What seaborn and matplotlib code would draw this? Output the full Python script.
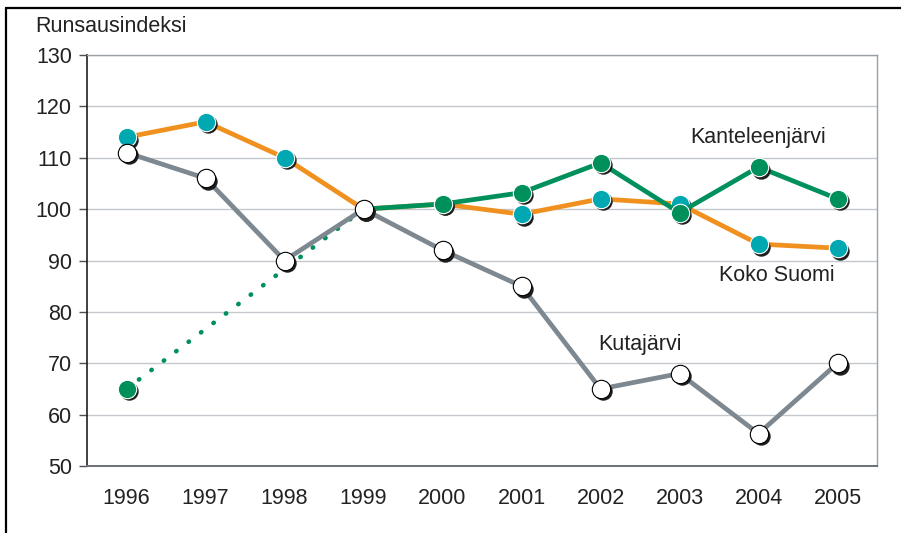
import matplotlib
matplotlib.use("Agg")
import matplotlib.pyplot as plt
import matplotlib.transforms as mtransforms
from matplotlib.lines import Line2D
import numpy as np
import pandas as pd
import seaborn as sns

# ─── Data ────────────────────────────────────────────────────────────────────
YEARS = [1996, 1997, 1998, 1999, 2000, 2001, 2002, 2003, 2004, 2005]
KOKO_SUOMI = [114, 117, 110, 100, 101, 99, 102, 101, 93.2, 92.4]
KANTELEENJARVI = [65, np.nan, np.nan, 100, 101, 103.2, 109, 99.3, 108.2, 102]
KUTAJARVI = [111, 106, 90, 100, 92, 85, 65, 68, 56.3, 70]

ORANGE = "#F0901E"
TEAL = "#00A8B2"
GREEN = "#00905C"
GRAY = "#7D8891"
SHADOW = "#1E1E1E"

sns.set_theme(style="white")
plt.rcParams["font.family"] = ["Liberation Sans", "DejaVu Sans"]

fig = plt.figure(figsize=(9.01, 5.33), dpi=100)
ax = fig.add_axes([0.0966, 0.1257, 0.8768, 0.7711])

shadow_tf = ax.transData + mtransforms.ScaledTranslation(2.5 / 100, -2.5 / 100,
                                                          fig.dpi_scale_trans)


def draw_series(x, y, line_color, face, edge, z, line_from=0):
    df = pd.DataFrame({"x": x, "y": y}).dropna()
    line_df = df[df["x"] >= x[line_from]]
    sns.lineplot(data=line_df, x="x", y="y", color=line_color, lw=3.4, ax=ax,
                 zorder=z, solid_capstyle="round", legend=False)
    sns.scatterplot(data=df, x="x", y="y", color=SHADOW, s=175, lw=0,
                    ax=ax, zorder=z + 0.1, transform=shadow_tf, legend=False)
    sns.scatterplot(data=df, x="x", y="y", color=face, s=175, lw=0.8,
                    edgecolor=edge, ax=ax, zorder=z + 0.2, legend=False)


# Koko Suomi
draw_series(YEARS, KOKO_SUOMI, ORANGE, TEAL, "white", 3)

# Kanteleenjärvi: dotted gap 1996 -> 1999, solid afterwards
ax.plot([YEARS[0], YEARS[3]], [KANTELEENJARVI[0], KANTELEENJARVI[3]],
        color=GREEN, lw=3.3, zorder=4, linestyle=(0, (0.1, 3.3)),
        dash_capstyle="round")
draw_series(YEARS, KANTELEENJARVI, GREEN, GREEN, "white", 4, line_from=3)

# Kutajärvi
draw_series(YEARS, KUTAJARVI, GRAY, "white", "black", 5)

# ─── Axes styling ────────────────────────────────────────────────────────────
ax.set_xlim(1995.5, 2005.5)
ax.set_ylim(50, 130)
ax.set_xticks(YEARS)
ax.set_xticklabels([str(y) for y in YEARS])
ax.set_yticks(range(50, 131, 10))
ax.set_xlabel("")
ax.set_ylabel("")
ax.yaxis.grid(True, color="#C4C8CC", lw=1)
ax.set_axisbelow(True)
for side in ("top", "right"):
    ax.spines[side].set_color("#9AA0A6")
    ax.spines[side].set_linewidth(1)
ax.spines["left"].set_color("#202020")
ax.spines["left"].set_linewidth(1.2)
ax.spines["bottom"].set_color("#6A7076")
ax.spines["bottom"].set_linewidth(1.4)
ax.tick_params(axis="y", length=6, width=1, color="#505050", labelsize=15.5,
               labelcolor="#222222", pad=5, left=True)
ax.tick_params(axis="x", length=0, labelsize=15.5, labelcolor="#222222", pad=16)

# Texts
fig.text(35 / 901, 1 - 27 / 533, "Runsausindeksi", fontsize=15.5,
         color="#222222", va="center", ha="left")
ax.text(2004.0, 113.9, "Kanteleenjärvi", fontsize=15.5, color="#222222",
        ha="center", va="center")
ax.text(2004.23, 87.0, "Koko Suomi", fontsize=15.5, color="#222222",
        ha="center", va="center")
ax.text(2002.5, 73.6, "Kutajärvi", fontsize=15.5, color="#222222",
        ha="center", va="center")

# Outer frame (left and top)
fig.add_artist(Line2D([5.5 / 901, 5.5 / 901], [0, 1 - 7.5 / 533],
                      transform=fig.transFigure, color="black", lw=1.6))
fig.add_artist(Line2D([5.5 / 901, 1], [1 - 7.5 / 533, 1 - 7.5 / 533],
                      transform=fig.transFigure, color="black", lw=1.6))

fig.savefig("out.png", dpi=100)
